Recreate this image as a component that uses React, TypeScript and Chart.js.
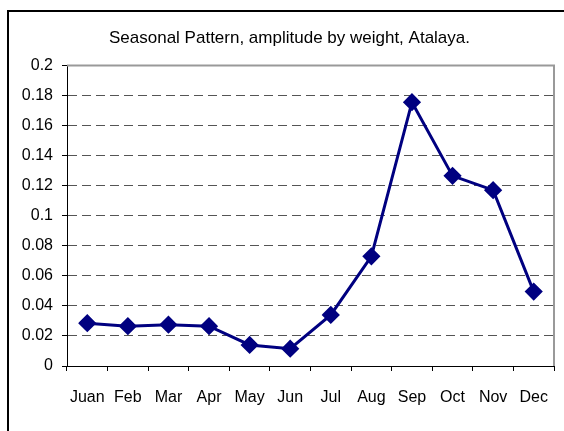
import React, { useEffect, useRef } from "react";
import { Chart, registerables } from "chart.js";

Chart.register(...registerables);

const TITLE = "Seasonal Pattern, amplitude by weight, Atalaya.";
const months = ["Juan", "Feb", "Mar", "Apr", "May", "Jun", "Jul", "Aug", "Sep", "Oct", "Nov", "Dec"];
const amplitude = [0.0285, 0.0265, 0.0275, 0.0265, 0.014, 0.0115, 0.034, 0.073, 0.1755, 0.1265, 0.117, 0.0495];
const yMin = 0;
const yMax = 0.2;
const yStep = 0.02;

const FONT = "'Liberation Sans', Arial, sans-serif";

const framePlugin = {
  id: "frame",
  beforeDraw(chart: any) {
    const ctx = chart.ctx;
    ctx.save();
    ctx.fillStyle = "#ffffff";
    ctx.fillRect(0, 0, chart.width, chart.height);
    ctx.strokeStyle = "#000000";
    ctx.lineWidth = 2;
    ctx.beginPath();
    ctx.moveTo(8, chart.height);
    ctx.lineTo(8, 11);
    ctx.lineTo(chart.width, 11);
    ctx.stroke();
    ctx.restore();
  },
  afterDatasetsDraw(chart: any) {
    const ctx = chart.ctx;
    const a = chart.chartArea;
    ctx.save();
    ctx.strokeStyle = "#999999";
    ctx.lineWidth = 2;
    ctx.beginPath();
    ctx.moveTo(a.left, a.top);
    ctx.lineTo(a.right, a.top);
    ctx.lineTo(a.right, a.bottom);
    ctx.stroke();
    ctx.restore();
  },
};

export default function App() {
  const ref = useRef<HTMLCanvasElement | null>(null);
  useEffect(() => {
    if (!ref.current) return;
    const chart = new Chart(ref.current, {
      type: "line",
      data: {
        labels: months,
        datasets: [
          {
            data: amplitude,
            borderColor: "#000080",
            backgroundColor: "#000080",
            borderWidth: 3,
            pointStyle: "rectRot",
            pointRadius: 7,
            pointBackgroundColor: "#000080",
            pointBorderColor: "#000080",
            tension: 0,
          },
        ],
      },
      options: {
        responsive: false,
        devicePixelRatio: 1,
        animation: false,
        layout: { padding: { left: 22, right: 7, top: 0, bottom: 0 } },
        plugins: {
          legend: { display: false },
          tooltip: { enabled: false },
          title: {
            display: true,
            text: TITLE,
            color: "#000000",
            font: { family: FONT, size: 17, weight: "normal" },
            padding: { top: 28, bottom: 17 },
          },
        },
        scales: {
          x: {
            offset: true,
            grid: {
              display: true,
              offset: true,
              drawOnChartArea: false,
              drawTicks: true,
              tickLength: 5,
              tickColor: "#000000",
              tickWidth: 1,
            },
            border: { display: true, color: "#000000", width: 1 },
            ticks: {
              color: "#000000",
              font: { family: FONT, size: 16 },
              padding: 17,
              maxRotation: 0,
              autoSkip: false,
            },
            afterFit: (scale: any) => {
              scale.height = 65;
              scale.paddingLeft = 0;
              scale.paddingRight = 0;
            },
          },
          y: {
            min: yMin,
            max: yMax,
            afterFit: (scale: any) => {
              scale.width = 45;
              scale.paddingTop = 0;
              scale.paddingBottom = 0;
            },
            grid: {
              color: "#555555",
              lineWidth: 1,
              drawTicks: true,
              tickLength: 5,
              tickColor: "#000000",
              tickBorderDash: [],
            },
            border: { display: true, color: "#000000", width: 1, dash: [9, 5] },
            ticks: {
              stepSize: yStep,
              color: "#000000",
              font: { family: FONT, size: 16 },
              padding: 9,
              callback: (v: any) => String(Math.round(Number(v) * 100) / 100),
            },
          },
        },
      },
      plugins: [
        framePlugin,
        {
          id: "fixArea",
          afterLayout(chart: any) {
            // nothing: area fixed by layout padding
          },
        },
      ],
    });
    return () => chart.destroy();
  }, []);
  return (
    <div style={{ position: "fixed", left: 0, top: 0, width: 564, height: 431 }}>
      <canvas ref={ref} width={564} height={431} style={{ width: 564, height: 431, display: "block" }} />
    </div>
  );
}
